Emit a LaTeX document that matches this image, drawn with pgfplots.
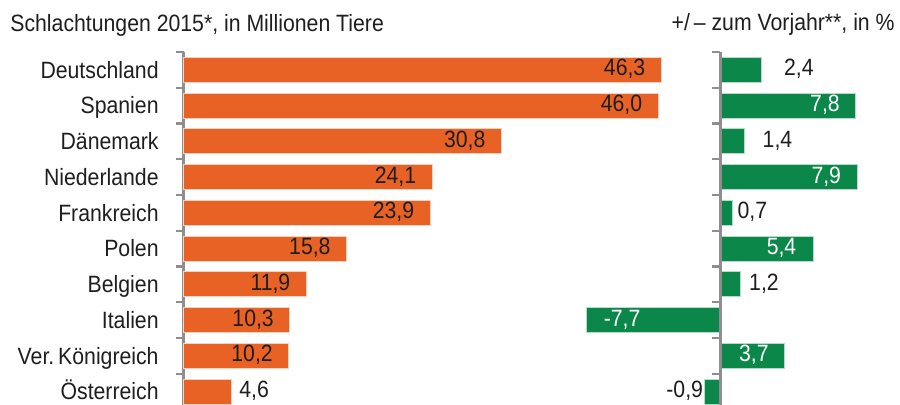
\documentclass[border=0pt]{standalone}
\usepackage{fontspec}
\setmainfont{Liberation Sans}[FakeStretch=0.9]
\usepackage{pgfplots}
\usepackage{pgfplotstable}
\pgfplotsset{compat=1.18}
\definecolor{barorange}{HTML}{E86226}
\definecolor{bargreen}{HTML}{0B8849}
\definecolor{axgray}{HTML}{8E8E8E}
\definecolor{txt}{HTML}{1E1E1E}

% left panel: Schlachtungen 2015, Mio. Tiere
\pgfplotstableread{
idx val off
0 46.3 -7.8
1 46.0 -7.8
2 30.8 -7.8
3 24.1 -7.8
4 23.9 -7.8
5 15.8 -7.8
6 11.9 -7.8
7 10.3 -7.8
8 10.2 -7.8
}\leftin
\pgfplotstableread{
idx val off
9 4.6 4
}\leftout

% right panel: +/- zum Vorjahr, %
\pgfplotstableread{
idx val off
1 7.8 -7.6
3 7.9 -7.8
5 5.4 -8.5
8 3.7 -7.6
}\rposin
\pgfplotstableread{
idx val off
0 2.4 11
2 1.4 9
4 0.7 2.5
6 1.2 4
}\rposout
\pgfplotstableread{
idx val off
7 -7.7 8.5
}\rnegin
\pgfplotstableread{
idx val off
9 -0.9 -0.5
}\rnegout

\pgfplotsset{
  mybar/.style 2 args={xbar, bar width=12.5pt, bar shift=0pt, fill=#1, draw=white!70!#1, line width=0.4pt,
    point meta=x,
    visualization depends on={\thisrow{off} \as \loff},
    nodes near coords={\pgfmathprintnumber[fixed,fixed zerofill,precision=1,use comma,assume math mode=true]{\pgfplotspointmeta}},
    nodes near coords style={xshift=\loff pt, yshift=0.6pt, inner sep=0pt, text height=1.38ex, text depth=0pt, font=\fontsize{11.8}{14}\selectfont, #2},
  },
}

\begin{document}
\begin{tikzpicture}[font=\fontsize{11.8}{14}\selectfont]
\useasboundingbox (0pt,0pt) rectangle (450pt,-202.5pt);

\node[anchor=base west,inner sep=0pt,text=txt] at (5pt,-15.75pt) {Schlachtungen 2015*, in Millionen Tiere};
\node[anchor=base east,inner sep=0pt,text=txt] at (447.5pt,-15.5pt) {+/\,– zum Vorjahr**, in \%};

% left panel
\begin{axis}[
  at={(91.75pt,-26pt)}, anchor=north west,
  scale only axis, width=258pt, height=178.75pt,
  xmin=0, xmax=50, ymin=-0.5, ymax=9.5, y dir=reverse,
  axis x line=none, axis y line*=left,
  y axis line style={axgray,line width=1.5pt},
  ytick={0,...,9},
  yticklabels={Deutschland,Spanien,Dänemark,Niederlande,Frankreich,Polen,Belgien,Italien,Ver.\,Königreich,Österreich},
  yticklabel style={anchor=east,inner sep=0pt,xshift=-12.25pt,yshift=-0.5pt,text height=1.38ex,text depth=0pt,text=txt,font=\fontsize{11.8}{14}\selectfont},
  major tick length=0pt,
  minor ytick={-0.5,0.5,...,9.5},
  minor tick length=4pt,
  tick align=outside,
  minor tick style={axgray,line width=1.2pt},
  clip=false,
]
\addplot[mybar={barorange}{anchor=east,text=txt}] table[x=val,y=idx] {\leftin};
\addplot[mybar={barorange}{anchor=west,text=txt}] table[x=val,y=idx] {\leftout};
\end{axis}

% right panel
\begin{axis}[
  at={(290.6pt,-26pt)}, anchor=north west,
  scale only axis, width=143.14pt, height=178.75pt,
  xmin=-8, xmax=8.5, ymin=-0.5, ymax=9.5, y dir=reverse,
  axis lines=none,
  clip=false,
]
\addplot[mybar={bargreen}{anchor=east,text=white}] table[x=val,y=idx] {\rposin};
\addplot[mybar={bargreen}{anchor=west,text=txt}] table[x=val,y=idx] {\rposout};
\addplot[mybar={bargreen}{anchor=west,text=white}] table[x=val,y=idx] {\rnegin};
\addplot[mybar={bargreen}{anchor=east,text=txt}] table[x=val,y=idx] {\rnegout};
\draw[axgray,line width=1.5pt] (axis cs:0,-0.5) -- (axis cs:0,9.5);
\pgfplotsinvokeforeach{-0.5,0.5,1.5,2.5,3.5,4.5,5.5,6.5,7.5,8.5}{
  \draw[axgray,line width=1.2pt] (axis cs:0,#1) -- ++(-4pt,0pt);
}
\end{axis}
\end{tikzpicture}
\end{document}
